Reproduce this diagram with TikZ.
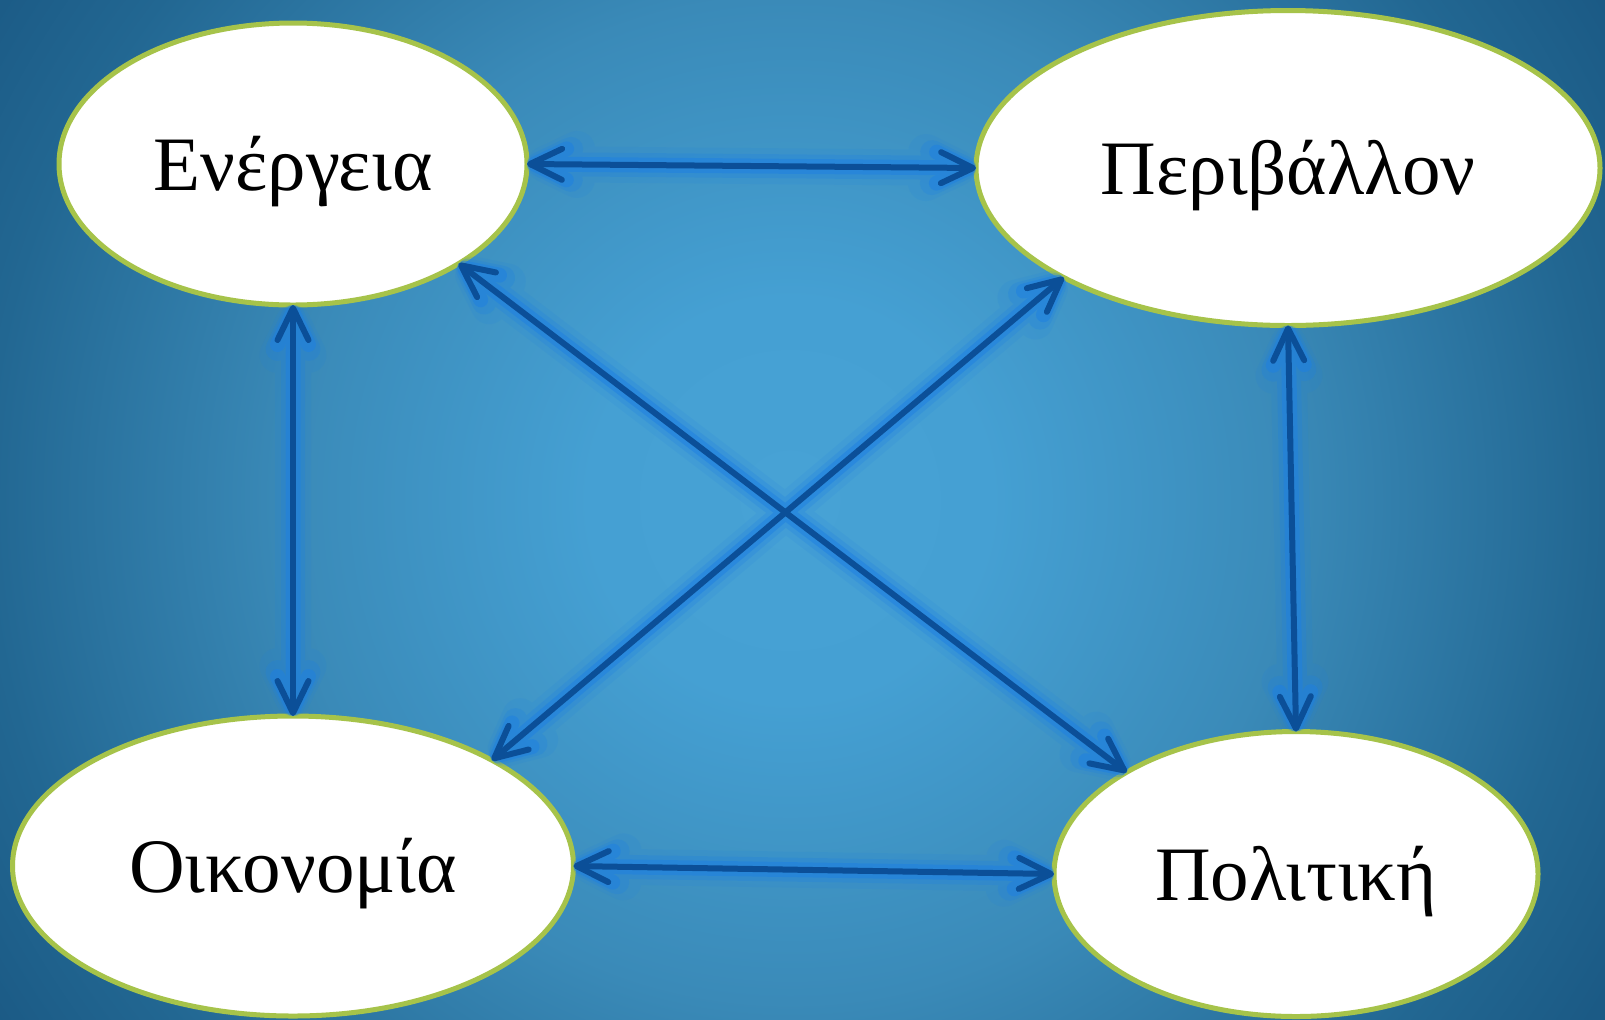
\documentclass[tikz,border=0pt]{standalone}
\usepackage{fontspec}
\setmainfont{Liberation Serif}
\usetikzlibrary{arrows.meta,shapes.geometric}
\definecolor{bgA}{HTML}{47A2D5}
\definecolor{bgA2}{HTML}{45A0D3}
\definecolor{bgM}{HTML}{3A8AB8}
\definecolor{bgB}{HTML}{226792}
\definecolor{bgC}{HTML}{1B5A85}
\definecolor{rimgreen}{HTML}{A6C34A}
\definecolor{arrowblue}{HTML}{0B4F98}
\definecolor{glowblue}{HTML}{1E80E2}
\pgfdeclareradialshading{bgshade}{\pgfpoint{0bp}{0bp}}{color(0bp)=(bgA); color(100bp)=(bgA2); color(250bp)=(bgM); color(400bp)=(bgB); color(475bp)=(bgC); color(700bp)=(bgC)}
\begin{document}
\begin{tikzpicture}[x=0.5pt,y=-0.5pt,
  topic/.style={ellipse,draw=rimgreen,fill=white,line width=2.5pt,inner sep=0pt,outer sep=0pt,
    font=\fontsize{38.5}{40}\selectfont,text height=26pt,text depth=0pt},
  bitipshape/.style={{Straight Barb[length=16pt 0,width=15.5pt 0,round]}-{Straight Barb[length=16pt 0,width=15.5pt 0,round]}},
  glowwide/.style={bitipshape,draw=glowblue,line width=18pt,line cap=round,line join=round},
  glowA/.style={bitipshape,draw=glowblue,line width=12pt,line cap=round,line join=round},
  glowB/.style={bitipshape,draw=glowblue,line width=7.5pt,line cap=round,line join=round},
  link/.style={bitipshape,draw=arrowblue,line width=3pt,line cap=round}]
\useasboundingbox (0,0) rectangle (1605,1019);
\begin{scope}
\clip (0,0) rectangle (1605,1019);
\node[inner sep=0pt,outer sep=0pt] (bg) at (790,500) {\pgfuseshading{bgshade}};
\end{scope}

\node[topic,minimum width=234pt,minimum height=141pt] (E) at (293,164) {Ενέργεια};
\node[topic,minimum width=312pt,minimum height=157.5pt] (P) at (1288,168) {Περιβάλλον};
\node[topic,minimum width=280.5pt,minimum height=150pt] (O) at (293,866) {Οικονομία};
\node[topic,minimum width=242pt,minimum height=142.5pt] (L) at (1296,874) {Πολιτική};

\foreach \g/\op in {glowwide/0.12,glowA/0.25,glowB/0.5}{
\begin{scope}[transparency group,opacity=\op]
  \draw[\g] (E.east) -- (P.west);
  \draw[\g] (E.south) -- (O.north);
  \draw[\g] (P.south) -- (L.north);
  \draw[\g] (O.east) -- (L.west);
  \draw[\g] (E.-31) -- (L.149);
  \draw[\g] (P.206) -- (O.28);
\end{scope}
}
\draw[link] (E.east) -- (P.west);
\draw[link] (E.south) -- (O.north);
\draw[link] (P.south) -- (L.north);
\draw[link] (O.east) -- (L.west);
\draw[link] (E.-31) -- (L.149);
\draw[link] (P.206) -- (O.28);
\end{tikzpicture}
\end{document}
